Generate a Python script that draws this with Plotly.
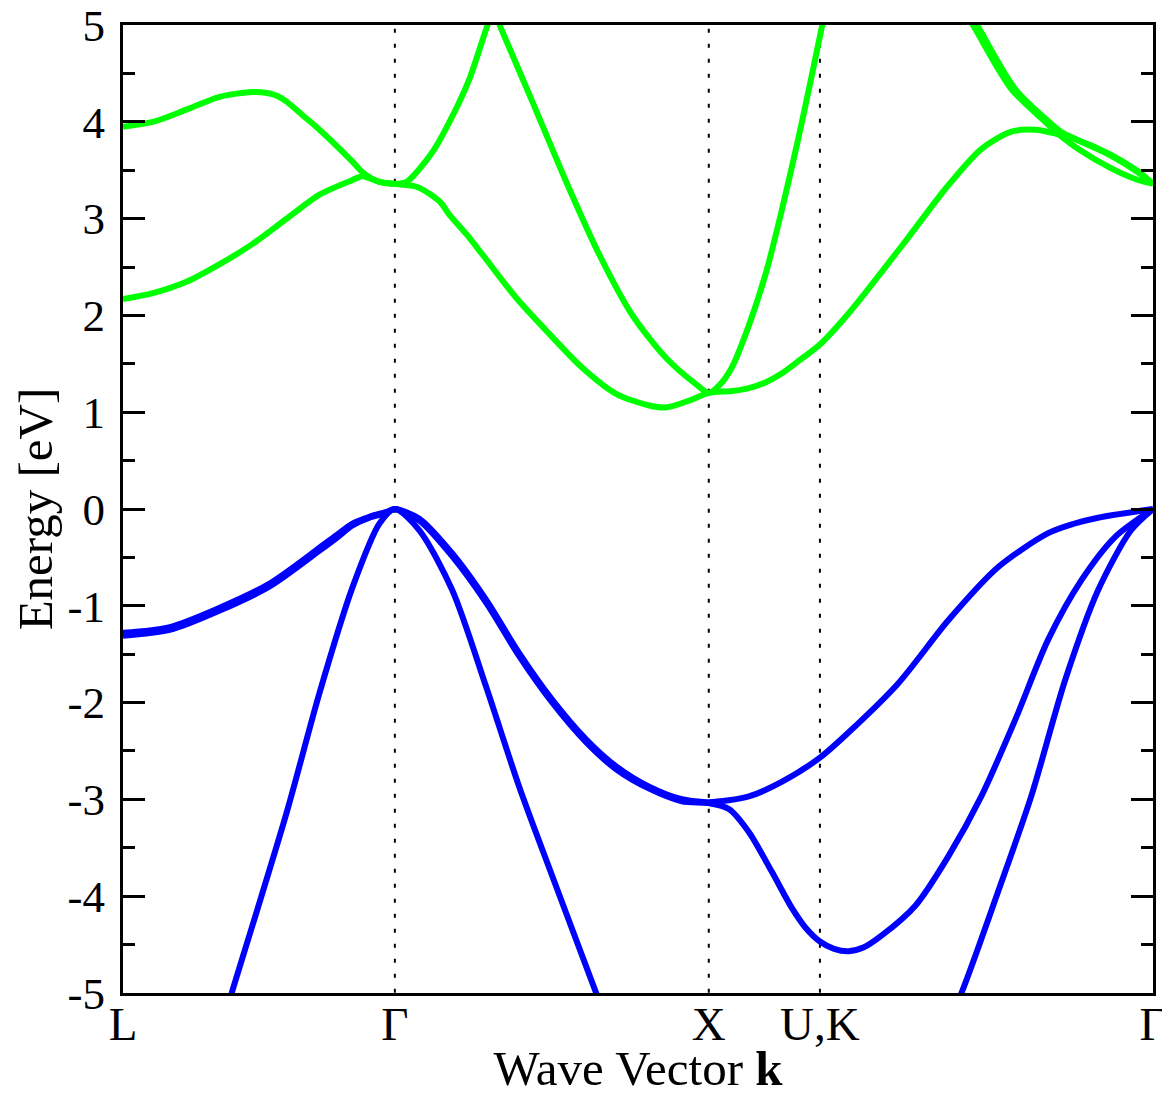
import plotly.graph_objects as go

# High-symmetry points along the k-path
sym_k = [0.0, 0.866, 1.866, 2.220, 3.281]
sym_labels = ["L", "Γ", "X", "U,K", "Γ"]
dotted_k = [0.866, 1.866, 2.220]

# Energy axis ticks
y_range = [-5.002, 5.002]
y_ticks = [-5, -4, -3, -2, -1, 0, 1, 2, 3, 4, 5]
y_ticklabels = ["-5", "-4", "-3", "-2", "-1", "0", "1", "2", "3", "4", "5"]
y_minor = [-4.5, -3.5, -2.5, -1.5, -0.5, 0.5, 1.5, 2.5, 3.5, 4.5]

# ---------------- Valence bands (blue) ----------------
v_top_k = [0, 0.149, 0.308, 0.467, 0.626, 0.680, 0.731, 0.785, 0.839, 0.866, 0.944, 1.049,
           1.157, 1.262, 1.367, 1.475, 1.571, 1.676, 1.780, 1.866, 1.994, 2.098, 2.220, 2.311,
           2.470, 2.629, 2.788, 2.947, 3.026, 3.106, 3.281]
v_top_E = [-1.28, -1.22, -1.02, -0.77, -0.40, -0.27, -0.15, -0.08, -0.03, 0.0, -0.10, -0.46,
           -0.94, -1.49, -1.97, -2.38, -2.66, -2.87, -3.00, -3.03, -2.97, -2.82, -2.57, -2.31,
           -1.80, -1.15, -0.60, -0.25, -0.155, -0.09, 0.0]

v_second_k = [0, 0.149, 0.308, 0.467, 0.626, 0.680, 0.731, 0.785, 0.839, 0.866, 0.944, 1.049,
              1.157, 1.262, 1.367, 1.475, 1.571, 1.676, 1.780, 1.866, 1.930, 1.994, 2.067,
              2.130, 2.175, 2.220, 2.265, 2.311, 2.360, 2.416, 2.524, 2.629, 2.734, 2.842,
              2.947, 3.052, 3.160, 3.281]
v_second_E = [-1.31, -1.25, -1.05, -0.80, -0.43, -0.30, -0.17, -0.09, -0.04, 0.0, -0.12, -0.49,
              -0.97, -1.52, -2.00, -2.41, -2.69, -2.89, -3.02, -3.04, -3.10, -3.34, -3.75,
              -4.12, -4.33, -4.47, -4.545, -4.57, -4.53, -4.41, -4.10, -3.59, -2.97, -2.18,
              -1.35, -0.74, -0.29, 0.0]

v_third_k = [0.300, 0.3465, 0.521, 0.626, 0.731, 0.817, 0.866, 0.944, 1.049, 1.157, 1.262,
             1.367, 1.507, 1.550, None, 2.620, 2.671, 2.788, 2.893, 3.001, 3.106, 3.211, 3.281]
v_third_E = [-5.5, -5.0, -3.14, -1.90, -0.81, -0.15, 0.0, -0.22, -0.84, -1.84, -2.87,
             -3.79, -5.0, -5.37, None, -5.36, -5.0, -3.95, -2.97, -1.77, -0.84, -0.22, 0.0]

# ---------------- Conduction bands (green) ----------------
c_low_k = [0, 0.095, 0.204, 0.308, 0.413, 0.521, 0.626, 0.731, 0.763, 0.817, 0.866, 0.935,
           1.008, 1.040, 1.094, 1.145, 1.253, 1.358, 1.463, 1.571, 1.676, 1.730, 1.803, 1.866,
           1.940, 1.994, 2.048, 2.098, 2.152, 2.220, 2.311, 2.493, 2.620, 2.734, 2.830,
           2.906, 2.970, 3.043, 3.148, 3.233, 3.281]
c_low_E = [2.17, 2.23, 2.35, 2.53, 2.74, 3.00, 3.25, 3.40, 3.44, 3.38, 3.36, 3.33,
           3.18, 3.04, 2.84, 2.63, 2.18, 1.81, 1.46, 1.19, 1.07, 1.05, 1.12, 1.20,
           1.22, 1.25, 1.31, 1.40, 1.53, 1.70, 2.02, 2.77, 3.31, 3.72, 3.90,
           3.92, 3.88, 3.81, 3.66, 3.49, 3.36]

c_mid_k = [0, 0.095, 0.204, 0.308, 0.413, 0.459, 0.490, 0.521, 0.572, 0.626, 0.731, 0.763,
           0.817, 0.866, 0.903, 0.986, 1.040, 1.103, 1.157, 1.180, 1.205, 1.304, 1.412, 1.517,
           1.621, 1.730, 1.825, 1.866, 1.900, 1.939, 1.994, 2.048, 2.098, 2.152, 2.194, 2.226,
           2.248]
c_mid_E = [3.95, 4.00, 4.13, 4.26, 4.31, 4.30, 4.27, 4.21, 4.07, 3.92, 3.59, 3.48,
           3.38, 3.36, 3.38, 3.69, 4.00, 4.44, 4.96, 5.15, 4.96, 4.21, 3.38, 2.63,
           2.01, 1.56, 1.29, 1.20, 1.28, 1.46, 1.90, 2.44, 3.08, 3.84, 4.48, 4.98,
           5.30]

c_up1_k = [2.661, 2.715, 2.830, 2.938, 2.989, 3.043, 3.148, 3.233, 3.281]
c_up1_E = [5.26, 4.96, 4.34, 4.00, 3.85, 3.72, 3.52, 3.40, 3.36]

c_up2_k = [2.674, 2.728, 2.842, 2.950, 2.992, 3.043, 3.148, 3.233, 3.281]
c_up2_E = [5.26, 4.96, 4.34, 4.00, 3.89, 3.81, 3.65, 3.48, 3.36]

BLUE = "#0000ff"
GREEN = "#00ff00"
FONT = "Liberation Serif"
LW = 6

fig = go.Figure()

# dotted vertical separators at high-symmetry points
for k in dotted_k:
    fig.add_trace(go.Scatter(x=[k, k], y=[y_ticks[0], y_ticks[-1]], mode="lines",
                             line=dict(color="black", width=2, dash="4px,11px"),
                             hoverinfo="skip", showlegend=False))

for kk, ee in [(v_top_k, v_top_E), (v_second_k, v_second_E), (v_third_k, v_third_E)]:
    fig.add_trace(go.Scatter(x=kk, y=ee, mode="lines",
                             line=dict(color=BLUE, width=LW, shape="spline", smoothing=0.8),
                             connectgaps=False, showlegend=False))

for kk, ee in [(c_low_k, c_low_E), (c_mid_k, c_mid_E), (c_up1_k, c_up1_E), (c_up2_k, c_up2_E)]:
    fig.add_trace(go.Scatter(x=kk, y=ee, mode="lines",
                             line=dict(color=GREEN, width=LW, shape="spline", smoothing=0.8),
                             showlegend=False))

# page body has an 8px margin, so the figure is sized to fit the window
fig.update_layout(
    width=1162, height=1088,
    margin=dict(l=115, r=17, t=17, b=103),
    paper_bgcolor="white", plot_bgcolor="white",
    font=dict(family=FONT, size=45, color="black"),
    showlegend=False,
)

fig.update_xaxes(
    range=[sym_k[0], sym_k[-1]],
    tickmode="array", tickvals=sym_k, ticktext=sym_labels,
    ticks="", showgrid=False, zeroline=False,
    showline=True, linecolor="black", linewidth=3, mirror=True,
    tickfont=dict(family=FONT, size=47),
    ticklabelstandoff=-12,
    ticklabeloverflow="allow",
    automargin=False,
    title=dict(text="Wave Vector <b>k</b>", font=dict(family=FONT, size=49), standoff=0),
)

fig.update_yaxes(
    range=y_range,
    tickmode="array", tickvals=y_ticks, ticktext=y_ticklabels,
    ticks="inside", ticklen=22, tickwidth=3, tickcolor="black",
    minor=dict(tickmode="array", tickvals=y_minor, ticks="inside", ticklen=12,
               tickwidth=3, tickcolor="black", showgrid=False),
    showgrid=False, zeroline=False,
    showline=True, linecolor="black", linewidth=3, mirror="ticks",
    tickfont=dict(family=FONT, size=45),
    ticklabelstandoff=6,
    ticklabeloverflow="allow",
    automargin=False,
    title=dict(text="Energy [eV]", font=dict(family=FONT, size=49), standoff=8),
)

fig.write_html("out.html")
